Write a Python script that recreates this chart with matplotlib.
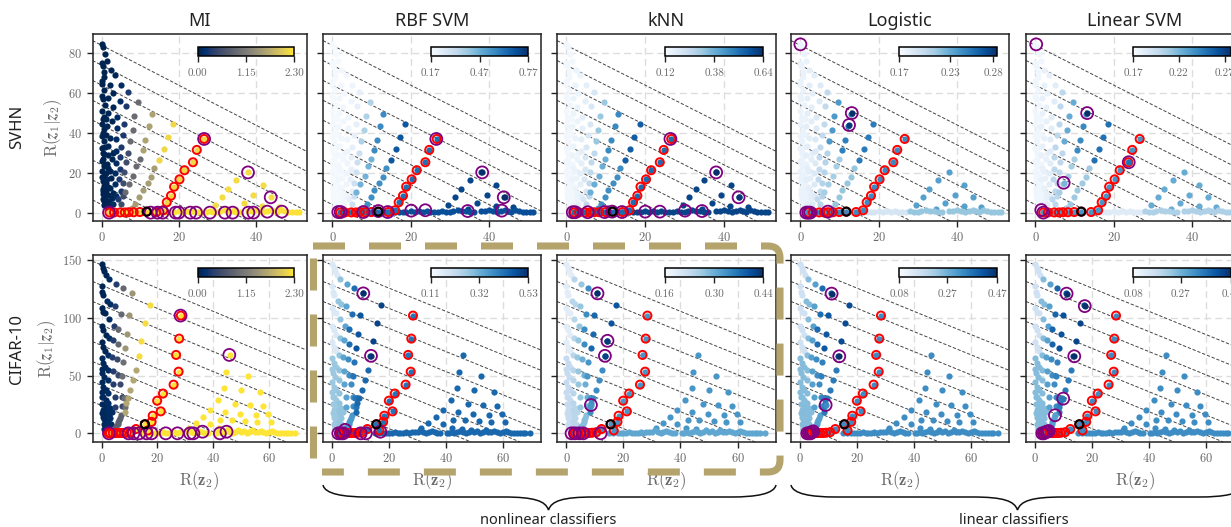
import matplotlib
matplotlib.use("Agg")
import matplotlib.pyplot as plt
from matplotlib.cm import ScalarMappable
from matplotlib.colors import Normalize
from matplotlib.patches import PathPatch
from matplotlib.path import Path

plt.rcParams["font.family"] = ["cmr10"]
plt.rcParams["mathtext.fontset"] = "cm"
plt.rcParams["axes.formatter.use_mathtext"] = True
plt.rcParams["axes.unicode_minus"] = False
plt.rcParams["lines.scale_dashes"] = False

W, H = 1231, 527
GRAY = "#6a6a6a"
TAN = "#b5a36c"
PURPLE = "#800080"

# ---- SVHN points, one list per strand
svhn_core = [(0, 84.5), (.3, 83), (.9, 79.5), (1.4, 76), (0, 75), (.2, 73.6), (.7, 70.8), (0, 66), (0, 64.8),
             (.7, 61.6), (0, 58.6), (.2, 57), (.9, 54), (0, 51), (.5, 48), (0, 44.3), (.7, 41.8), (0, 38.5),
             (.5, 36), (0, 32.6), (.7, 29.3), (0, 26), (.5, 23.4), (0, 21), (.7, 18.4), (.2, 16), (.7, 13.4),
             (.4, 10.9), (.9, 8.4), (.7, 5.9), (1, 3.3), (1.2, 11), (1.3, 6), (.3, 30), (.3, 47), (.2, 12), (.4, 7),
             (.6, 4), (1.6, 2.5), (1.9, 6), (1.1, 15), (1.2, 20), (.9, 24), (.9, 33), (1.1, 39), (.1, 18), (.2, 9.5),
             (.8, 10.8), (1.5, 9), (1.7, 13), (1.4, 24.5), (.4, 27), (.4, 40), (.6, 68), (1.2, 47)]
svhn_inner = [(2.3, 71.5), (3.5, 69), (2.1, 64), (3, 60), (1.7, 57.7), (2.8, 53), (1.6, 50), (2.6, 46), (1.3, 43.5),
              (2.2, 37.3), (1.6, 33.5), (2.6, 26.8), (1.7, 22.6), (2.4, 17.6), (2.2, 12.5), (2.6, 7.5), (1.8, 4.5),
              (1.5, 29), (1.4, 17), (2.2, 3), (2.8, 10), (2.2, 21), (2.9, 30)]
svhn_s5 = [(5, 64), (4.8, 56), (3.9, 48), (3.9, 42.7), (3.6, 36.8), (3.7, 31), (3.6, 25), (3.5, 20), (3.5, 14.2),
           (3.6, 8.4), (3, 4.5)]
svhn_s7 = [(6.9, 60.6), (6.3, 53.4), (5.9, 44.7), (5.5, 38.8), (5, 33), (4.7, 28), (4.8, 21.8), (4.5, 16.7), (5, 10.9),
           (4.3, 6.7)]
svhn_s10_up = [(9.5, 55.7), (8.5, 48.4), (8, 41.3), (7.4, 36)]
svhn_s10_lo = [(6.9, 29.8), (6.3, 25.4), (5.9, 20.4), (5.6, 15), (5.6, 8.4), (5, 4.5)]
svhn_s13_up = [(13, 49.4), (12.2, 43.5), (11.3, 36.6), (10.6, 31.3)]
svhn_s13_lo = [(9.9, 26.8), (9, 23.4), (8.2, 18.4), (7.1, 14.6), (6.1, 10.4)]
svhn_s18_up = [(18.6, 44.3), (17.2, 38), (16.2, 32), (14.9, 26.3)]
svhn_s18_lo = [(13.7, 22.3), (12.8, 17.9), (11.9, 14.8), (10.6, 11.2), (9.8, 8), (8.7, 4.5), (7.9, 2.5)]
svhn_red = [(26.6, 37), (24.7, 31.5), (23.7, 25.3), (21.5, 21.3), (20.2, 16.7), (18.8, 13), (18, 8.5), (16.9, 5.2),
            (16, 1.2), (14.2, .3), (11.7, .5), (9.9, .3), (8.3, .2), (7, .2), (6, .1), (4.8, .1), (3.2, .1), (2, .1)]
svhn_right = [(38, 20.2), (35, 16.4), (32.9, 12), (31.2, 8), (29.5, 3.9), (41.8, 13.9), (39.3, 9), (36.9, 4.7),
              (43.9, 7.7), (41.6, 3.4), (46, 3), (34.5, 2)]
svhn_axis_lo = [(3, .2), (5, .2), (7, .2), (9, .2), (11, .2), (13, .3), (14, .2), (15, .3), (16, .4), (17, .5),
                (18, .3), (18.8, .3), (20, .8), (21, .4), (22, .6), (23, .3), (24, 1), (25, .5), (26, .4), (27, .2)]
svhn_axis_hi = [(28, .6), (29, .4), (30, .5), (30.8, 1), (32, 1.3), (33, .6), (34, .8), (35, .3), (36, .3), (38, .6),
                (39, 1), (40, 1.4), (41, .7), (42, .5), (43, .8), (44, 1.3), (44.8, .7), (45.5, .5), (46.5, 1.4),
                (47.5, 1), (48.5, .5), (49.5, .3), (50.5, .2), (51.2, .2)]

svhn_groups = [svhn_core, svhn_inner, svhn_s5, svhn_s7, svhn_s10_lo, svhn_s10_up, svhn_s13_lo, svhn_s13_up,
               svhn_s18_lo, svhn_s18_up, svhn_right, svhn_axis_lo, svhn_axis_hi, svhn_red]

# colour value of each group, same order as svhn_groups
svhn_vals_mi = [.02, .05, .12, .3, .55, .95, .95, 1.6, 1.55, 2.15, 2.2, 2.25, 2.25, 2.15]
svhn_vals_rbf = [.18, .19, .2, .22, .3, .36, .46, .56, .55, .68, .72, .7, .7, .62]
svhn_vals_knn = [.135, .15, .17, .2, .26, .32, .38, .46, .45, .55, .6, .6, .6, .52]
svhn_vals_log = [.178, .182, .186, .2, .205, .238, .21, .25, .215, .252, .235, .19, .215, .245]
svhn_vals_lin = [.174, .178, .182, .2, .2, .225, .207, .24, .21, .25, .225, .183, .205, .235]

# ---- CIFAR-10 points
cifar_core_up = [(0, 146), (.4, 143), (1, 140), (1.7, 137), (0, 127), (.2, 122.5), (.5, 119.7), (0, 108), (.4, 105),
                 (1.2, 103.8), (0, 93), (.5, 89.4), (1.4, 85), (0, 78.7), (.5, 75), (1.2, 71)]
cifar_core_lo = [(0, 65), (.5, 60.6), (1.2, 57.7), (0, 56), (.2, 52), (1, 49), (0, 44.7), (.5, 40.4), (1.4, 37.5),
                 (0, 36), (.5, 31.7), (1.4, 28.8), (.6, 20), (.96, 16), (1.4, 11.5), (1.8, 7.2), (.2, 25), (.8, 12),
                 (.4, 14), (.7, 8), (1, 4), (1.2, 24), (1.9, 18), (1.9, 3), (.1, 18), (.1, 31), (1.5, 19)]
cifar_inner = [(2.6, 133.5), (1.9, 114.5), (3, 111.6), (2.6, 99), (2.6, 82), (2.4, 67.8), (2.2, 54.8), (2.4, 46),
               (2.4, 34.6), (2.4, 26), (3, 13), (3.6, 18.7), (2.4, 4.3), (2.2, 20), (2.4, 10), (2.9, 22), (2.7, 16),
               (3.2, 8)]
cifar_d = [(5.1, 129), (4.8, 110), (4.5, 92.8), (4.2, 80.7), (3.8, 66.3), (4.2, 54), (4.2, 42.7), (4.8, 31), (4.8, 23)]
cifar_band = [(6.9, 15.9), (6.3, 11.5), (5.7, 7.8), (4.8, 4.3), (3.8, 1.4), (6.6, 13.5), (6, 9.5), (5.2, 6)]
cifar_c_up = [(7.5, 125.4), (6.8, 103.5), (6, 90), (6, 77)]
cifar_c_lo = [(5.4, 64.3), (6, 50.5), (6.6, 42.7), (7.2, 31), (7.2, 24)]
cifar_b_up = [(10.9, 121.4), (9.8, 102.4), (9.2, 86), (8.5, 74)]
cifar_b_lo = [(7.5, 61.4), (7.2, 50), (8.1, 30.3), (8.4, 23)]
cifar_a_up = [(17.3, 111), (15.7, 95.7), (14.2, 80), (13.4, 67.2)]
cifar_a_lo = [(12.4, 54.8), (11.4, 46), (10.3, 37.5), (9.4, 30.3), (8.7, 26.5), (8.2, 18.7)]
cifar_red = [(28.4, 101.8), (27.8, 81.9), (26.7, 67.8), (27.6, 53.3), (25.8, 42.1), (22, 34.4), (19.9, 28.2),
             (21.2, 19), (18.3, 15.2), (17.9, 9.9), (16.6, 2.5), (15.5, 7.8), (12.3, 3.7), (10.5, 1), (9, .5), (8, .3),
             (7, .3), (6, .2), (5, .2), (4, .2), (3, .1), (2.5, .1)]
cifar_right = [(46, 67.8), (44.5, 52.8), (52.4, 50), (43.9, 39), (49.9, 37.2), (56.8, 35.5), (41.7, 28.8), (47.8, 25.7),
               (53.2, 24.5), (57.9, 23.9), (38.9, 20.2), (44.2, 18.2), (49.6, 16.7), (55.2, 15.6), (59.8, 16.4),
               (36.5, 14.1), (42.6, 11.8), (46.6, 11.2), (51.6, 10.4), (55.9, 9.8), (60.9, 10), (33.8, 9.2), (38.9, 7.8),
               (31.4, 4.3), (42, 5), (45.5, 4)]
cifar_axis = [(15, .3), (16.5, .3), (18, .5), (19, .3), (20, .7), (21, .4), (22, 1), (23, .5), (24, .4), (25, .6), (26, 1),
              (27, .4), (28, .8), (29, 1.5), (30, 1), (31, 2.5), (32, 1), (33, .5), (34, .8), (35, 1.6), (36, 1), (37, .6),
              (38, .3), (40.5, .5), (41.2, .4), (42, 1), (43, .5), (44, 1), (45, 2), (46, 1.3),
              (47, .6), (48, 1.5), (49, 2.5), (50, 1), (51, 2), (52, .7), (53, 1.5), (54, 2.5), (55, 1.5), (56, 1),
              (57, 1.8), (58, .8), (59, .4), (60, 1.2), (61, 2.2), (62, 1.2), (63, .7), (64, .6), (65, .4), (66, .4),
              (67, .3), (68, .3), (69.5, .3)]

cifar_groups = [cifar_core_up, cifar_core_lo, cifar_inner, cifar_d, cifar_band, cifar_c_lo, cifar_c_up, cifar_b_lo,
                cifar_b_up, cifar_a_lo, cifar_a_up, cifar_right, cifar_axis, cifar_red]

cifar_vals_mi = [.04, .08, .12, .35, .8, .5, .9, 1.0, 1.45, 1.65, 2.2, 2.28, 2.28, 2.25]
cifar_vals_rbf = [.17, .27, .28, .34, .36, .38, .43, .42, .47, .44, .5, .44, .44, .42]
cifar_vals_knn = [.19, .23, .24, .27, .28, .3, .34, .33, .38, .34, .4, .33, .31, .33]
cifar_vals_log = [.16, .25, .25, .3, .3, .33, .38, .35, .41, .36, .43, .33, .33, .33]
cifar_vals_lin = [.16, .25, .25, .3, .3, .33, .39, .35, .42, .36, .44, .33, .33, .33]

# purple rings: x, y, colour of the point inside (None keeps the group colour)
rings_svhn_mi = [(26.6, 37, None), (38, 20.2, None), (43.9, 7.7, None), (1.9, 0, None), (12.7, 0, None), (14.5, 0, None),
                 (15.8, 0, None), (19.2, 0, None), (20, 0, None), (23, 0, None), (24.5, 0, None), (28.1, 0, None),
                 (32, 0, None), (34, 0, None), (38.1, 0, None), (39.4, 0, None), (43, .5, None), (46.8, .5, None)]
rings_svhn_rbf = [(26.5, 37, None), (38.2, 20.2, .77), (43.7, 7.7, .77), (2.1, .3, None), (1.5, .3, None), (7.9, .3, None),
                  (11.7, .8, None), (14.1, .3, None), (20.1, 1, None), (23.7, 1.2, None), (34.5, .8, None), (43.2, 1, None)]
rings_svhn_knn = [(26.4, 37, None), (38, 20.2, .64), (43.7, 7.7, .62), (1.6, .2, None), (2.2, .2, None), (5.4, .2, None),
                  (9.7, .3, None), (11.6, .5, None), (14.1, .3, None), (20, .5, None), (23.7, .5, None), (30.1, 1, None),
                  (34.4, .8, None)]
rings_svhn_log = [(0, 84.5, None), (13.1, 50, .285), (12.4, 44, .28), (2, 0, None), (2.5, 0, None), (7, .5, None),
                  (1.5, 0, None)]
rings_svhn_lin = [(.2, 84.5, None), (13.2, 50, .277), (23.8, 25.3, .25), (7.2, 15, .22), (1.5, 1.3, None), (2, 0, None)]
rings_cifar_mi = [(28.3, 101.8, None), (45.8, 67.8, None), (2.6, 0, None), (9.6, 0, None), (11.4, 0, None),
                  (13.5, 0, None), (16.1, 0, None), (17.9, 0, None), (23, 0, None), (27.2, 0, None), (31.7, 0, None),
                  (32.9, 0, None), (36.2, 1.4, None), (42.4, 0, None), (44.8, 1.4, None)]
rings_cifar_rbf = [(10.9, 121, .53), (13.6, 67, .52), (2.1, 0, None), (3, 0, None), (3.8, 0, None), (4.5, 3, None),
                   (10, 0, None), (11.8, 0, None), (16.9, 1.4, None)]
rings_cifar_knn = [(10.9, 121, .44), (14.4, 80, .43), (13.5, 67, .42), (8.6, 24.5, .33), (1.8, 0, None), (3, 0, None),
                   (4.5, 0, None), (5.9, 0, None), (12, 0, None)]
rings_cifar_log = [(11, 120.8, .47), (13.7, 66.6, .47), (8.9, 24.5, .33), (2.4, 0, None), (3, 0, None), (3.6, 0, None),
                   (4, 1, None), (4.5, 1.7, None)]
rings_cifar_lin = [(11, 120.8, .47), (17.4, 110, .47), (13.7, 66.6, .47), (9.8, 30, .36), (6.9, 15.6, .3), (2.4, 0, None),
                   (3, 0, None), (3.6, 1, None), (4.2, 1.5, None), (4.7, 2, None)]

black_svhn = (11.7, .5)
black_cifar = (15.5, 7.8)

# constant-rate lines, intercepts
svhn_rates = [84, 74, 64, 54, 44, 34, 24, 14, 4]
cifar_rates = [145.5, 128, 110.7, 93.4, 76, 58.7, 41.4, 24, 6.7]

titles = ["MI", "RBF SVM", "kNN", "Logistic", "Linear SVM"]
row_names = ["SVHN", "CIFAR-10"]

# colour bar limits and ticks
svhn_limits = [(0, 2.3), (.17, .77), (.12, .64), (.17, .285), (.17, .277)]
cifar_limits = [(0, 2.3), (.11, .53), (.16, .44), (.08, .47), (.08, .47)]
svhn_cticks = [[0, 1.15, 2.3], [.17, .47, .77], [.12, .38, .64], [.17, .23, .28], [.17, .22, .27]]
cifar_cticks = [[0, 1.15, 2.3], [.11, .32, .53], [.16, .30, .44], [.08, .27, .47], [.08, .27, .47]]

svhn_vals = [svhn_vals_mi, svhn_vals_rbf, svhn_vals_knn, svhn_vals_log, svhn_vals_lin]
cifar_vals = [cifar_vals_mi, cifar_vals_rbf, cifar_vals_knn, cifar_vals_log, cifar_vals_lin]
svhn_rings = [rings_svhn_mi, rings_svhn_rbf, rings_svhn_knn, rings_svhn_log, rings_svhn_lin]
cifar_rings = [rings_cifar_mi, rings_cifar_rbf, rings_cifar_knn, rings_cifar_log, rings_cifar_lin]

# panel edges in pixels
col_edges = [(92.5, 306.5), (323, 541), (557, 776), (791, 1009), (1026, 1244)]
row_edges = [(34, 221), (255, 442)]
cbar_edges = [(197.7, 294.3), (430.7, 528.3), (665, 763.3), (899.3, 997.3), (1133, 1231)]
cbar_rows = [(46.7, 56), (267.7, 276.7)]


def rect(x0, x1, y0, y1):
    return [x0 / W, 1 - y1 / H, (x1 - x0) / W, (y1 - y0) / H]


def pt(x, y):
    return (x / W, 1 - y / H)


def draw_panel(ax, groups, vals, rings, black, rates, cmap, norm):
    for c in rates:
        ax.axline((0, c), slope=-1, color="#444444", lw=.7, ls=(0, (2.4, 1.3)), zorder=1.5)
    for pts, v in zip(groups, vals):
        ax.scatter([p[0] for p in pts], [p[1] for p in pts], s=20, color=cmap(norm(v)), lw=0, zorder=2)
    red = groups[-1]
    ax.scatter([p[0] for p in red], [p[1] for p in red], s=34, fc="none", ec="#ff0000", lw=1.4, zorder=3)
    for x, y, v in rings:
        if v is not None:
            ax.scatter([x], [y], s=20, color=cmap(norm(v)), lw=0, zorder=3.5)
    ax.scatter([r[0] for r in rings], [r[1] for r in rings], s=74, fc="none", ec=PURPLE, lw=1.3, zorder=4)
    ax.scatter([black[0]], [black[1]], s=34, fc="none", ec="black", lw=1.5, zorder=5)


fig = plt.figure(figsize=(W / 100, H / 100), dpi=100)

for r in range(2):
    for c in range(5):
        ax = fig.add_axes(rect(col_edges[c][0], col_edges[c][1], row_edges[r][0], row_edges[r][1]))
        cmap = plt.get_cmap("cividis" if c == 0 else "Blues")
        limits = svhn_limits[c] if r == 0 else cifar_limits[c]
        norm = Normalize(limits[0], limits[1])
        if r == 0:
            draw_panel(ax, svhn_groups, svhn_vals[c], svhn_rings[c], black_svhn, svhn_rates, cmap, norm)
            ax.set_xlim(-2.4, 53.2)
            ax.set_ylim(-4.2, 89.7)
            ax.set_xticks([0, 20, 40])
            ax.set_yticks([0, 20, 40, 60, 80])
            ax.set_title(titles[c], family="Noto Sans", fontsize=13, pad=6, color="#222222")
        else:
            draw_panel(ax, cifar_groups, cifar_vals[c], cifar_rings[c], black_cifar, cifar_rates, cmap, norm)
            ax.set_xlim(-3.3, 73.5)
            ax.set_ylim(-7.5, 154.2)
            ax.set_xticks([0, 20, 40, 60])
            ax.set_yticks([0, 50, 100, 150])
            ax.set_xlabel(r"$\mathrm{R}(\mathbf{z}_2)$", fontsize=12, color=GRAY, labelpad=3)
        ax.grid(True, color="#dddddd", lw=1, ls=(0, (5, 3)))
        ax.set_axisbelow(True)
        ax.tick_params(length=4, width=1, color="#222222", labelsize=9, labelcolor=GRAY)
        if c > 0:
            ax.tick_params(labelleft=False)
        for s in ax.spines.values():
            s.set_linewidth(1.1)
            s.set_color("#222222")
        if c == 0:
            ax.set_ylabel(r"$\mathrm{R}(\boldsymbol{z}_1|\boldsymbol{z}_2)$", fontsize=12, color=GRAY, labelpad=3)

        # colour bar inside the panel
        cax = fig.add_axes(rect(cbar_edges[c][0], cbar_edges[c][1], cbar_rows[r][0], cbar_rows[r][1]))
        cb = fig.colorbar(ScalarMappable(norm=norm, cmap=cmap), cax=cax, orientation="horizontal")
        ticks = svhn_cticks[c] if r == 0 else cifar_cticks[c]
        cb.set_ticks(ticks)
        cb.set_ticklabels(["%.2f" % t for t in ticks])
        cb.ax.tick_params(length=4, width=1, color="#222222", labelsize=8, labelcolor=GRAY, pad=5)
        cb.outline.set_linewidth(1.1)

fig.text(17 / W, 1 - 127 / H, row_names[0], rotation=90, ha="center", va="center", family="Noto Sans", fontsize=12,
         color="#222222")
fig.text(17 / W, 1 - 349 / H, row_names[1], rotation=90, ha="center", va="center", family="Noto Sans", fontsize=12,
         color="#222222")


def brace(x0, x1, xm):
    verts = [pt(x0, 485), pt(x0 + 2, 494), pt(x0 + 20, 497), pt(x0 + 45, 497),
             pt(xm - 45, 497), pt(xm - 14, 497), pt(xm - 3, 501), pt(xm, 510),
             pt(xm + 3, 501), pt(xm + 14, 497), pt(xm + 45, 497),
             pt(x1 - 45, 497), pt(x1 - 20, 497), pt(x1 - 2, 494), pt(x1, 485)]
    codes = [Path.MOVETO, Path.CURVE4, Path.CURVE4, Path.CURVE4, Path.LINETO, Path.CURVE4, Path.CURVE4, Path.CURVE4,
             Path.CURVE4, Path.CURVE4, Path.CURVE4, Path.LINETO, Path.CURVE4, Path.CURVE4, Path.CURVE4]
    fig.add_artist(PathPatch(Path(verts, codes), transform=fig.transFigure, fc="none", ec="#111111", lw=1.1))


brace(323, 776, 548.5)
brace(791, 1244, 1017.5)
fig.text(548.5 / W, 1 - 520 / H, "nonlinear classifiers", ha="center", va="center", family="Noto Sans", fontsize=10.5,
         color="#222222")
fig.text(1013.5 / W, 1 - 520 / H, "linear classifiers", ha="center", va="center", family="Noto Sans", fontsize=10.5,
         color="#222222")

# tan dashed frame around the nonlinear panels
frame = [pt(313, 246), pt(768, 246), pt(780, 246), pt(780, 258), pt(780, 460), pt(780, 472), pt(768, 472), pt(322, 472)]
frame_codes = [Path.MOVETO, Path.LINETO, Path.CURVE3, Path.CURVE3, Path.LINETO, Path.CURVE3, Path.CURVE3, Path.LINETO]
fig.add_artist(PathPatch(Path(frame, frame_codes), transform=fig.transFigure, fc="none", ec=TAN, lw=5.1,
                         ls=(0, (23.04, 17.28)), capstyle="butt", joinstyle="round", zorder=10))
left = [pt(313, 458), pt(313, 258)]
fig.add_artist(PathPatch(Path(left, [Path.MOVETO, Path.LINETO]), transform=fig.transFigure, fc="none", ec=TAN, lw=5.1,
                         ls=(0, (23.04, 17.28)), capstyle="butt", zorder=10))

fig.savefig("out.png", dpi=100)
